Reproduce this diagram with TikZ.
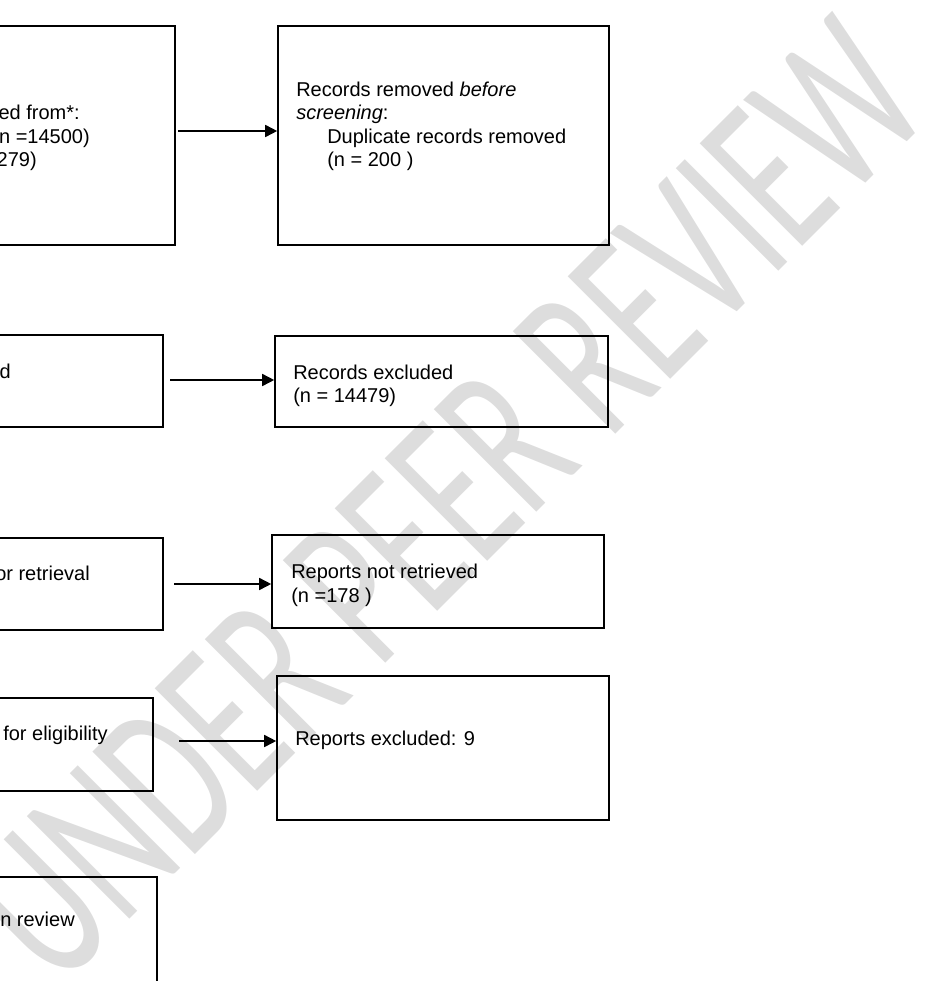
\documentclass[tikz,border=0pt]{standalone}
\usepackage{graphicx}
\usepackage{fontspec}
\setmainfont{Liberation Sans}
\newfontfamily\wmfont{Carlito}
\usetikzlibrary{arrows.meta,fit}
\definecolor{wmgray}{RGB}{221,221,221}
\begin{document}
\begin{tikzpicture}[x=0.75pt,y=-0.75pt,
  box/.style={draw=black, line width=1.2pt, inner sep=0pt},
  txt/.style={anchor=base west, inner sep=0pt, font=\fontsize{15}{18}\selectfont},
  txtr/.style={anchor=base east, inner sep=0pt, font=\fontsize{15}{18}\selectfont},
  arr/.style={line width=1.2pt, -{Triangle[length=9pt,width=9pt]}},
  wm/.style={text=wmgray, inner sep=0pt, font=\wmfont\fontsize{100}{110}\selectfont}]
\useasboundingbox (0,0) rectangle (951,981);
\clip (0,0) rectangle (951,981);
% watermark
\node[wm, rotate=45] (wmark) at (446,502) {\resizebox{931.5pt}{108.75pt}{UNDER PEER REVIEW}};
% boxes
\node[box, fit={(-300,26) (175,245)}] (b1) {};
\node[box, fit={(278,26) (609,245)}] (b2) {};
\node[box, fit={(-300,335) (163,427)}] (b3) {};
\node[box, fit={(275,336) (608,427)}] (b4) {};
\node[box, fit={(-300,538) (163,630)}] (b5) {};
\node[box, fit={(272,535) (604,628)}] (b6) {};
\node[box, fit={(-300,698) (153,791)}] (b7) {};
\node[box, fit={(277,676) (609,820)}] (b8) {};
\node[box, fit={(-300,877) (157,1100)}] (b9) {};
% texts
\node[txtr] (t1a) at (80,119.6) {ed from*:};
\node[txtr] (t1b) at (90,143.2) {(n =14500)};
\node[txtr] (t1c) at (37,166.8) {279)};
\node[txt] (t2a) at (296,96) {Records removed \textit{before}};
\node[txt] (t2b) at (296,119.6) {\textit{screening}:};
\node[txt] (t2c) at (327,143.2) {Duplicate records removed};
\node[txt] (t2d) at (327,166.8) {(n = 200 )};
\node[txtr] (t3) at (11,378) {d};
\node[txt] (t4a) at (293,379) {Records excluded};
\node[txt] (t4b) at (293,402.6) {(n = 14479)};
\node[txtr] (t5) at (90,580) {or retrieval};
\node[txt] (t6a) at (291,578.5) {Reports not retrieved};
\node[txt] (t6b) at (291,602.1) {(n =178 )};
\node[txtr] (t7) at (108,740) {for eligibility};
\node[txt] (t8) at (295,745) {Reports excluded: 9};
\node[txtr] (t9) at (75,926) {n review};
% arrows
\coordinate (s1) at (178,131);
\coordinate (s2) at (170,380);
\coordinate (s3) at (174,584);
\coordinate (s4) at (179,741);
\draw[arr] (s1) -- (b2.west |- s1);
\draw[arr] (s2) -- (b4.west |- s2);
\draw[arr] (s3) -- (b6.west |- s3);
\draw[arr] (s4) -- (b8.west |- s4);
\end{tikzpicture}
\end{document}
